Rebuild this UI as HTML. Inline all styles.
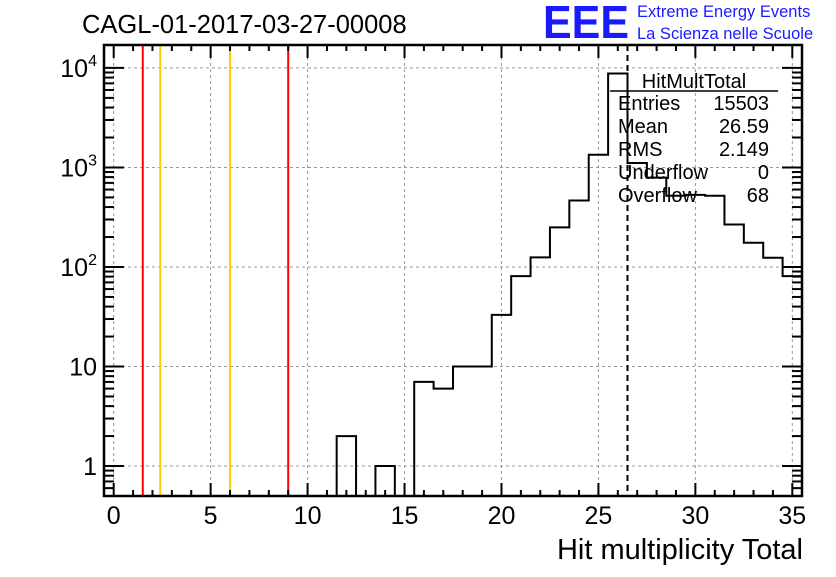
<!DOCTYPE html>
<html><head><meta charset="utf-8"><style>
body{margin:0;background:#fff;width:836px;height:572px;overflow:hidden}
svg{font-family:"Liberation Sans",Arial,sans-serif}
</style></head><body>
<svg id="c" width="836" height="572" xmlns="http://www.w3.org/2000/svg">
<text x="82" y="33" font-size="25.5">CAGL-01-2017-03-27-00008</text>
<text x="543" y="38" font-size="46" font-weight="bold" fill="#1a1aff" textLength="86" lengthAdjust="spacingAndGlyphs">EEE</text>
<text x="637" y="17" font-size="16.5" fill="#1a1aff">Extreme Energy Events</text>
<text x="637" y="39" font-size="16.5" fill="#1a1aff">La Scienza nelle Scuole</text>
<text x="803" y="559" font-size="29" text-anchor="end">Hit multiplicity Total</text>
<g id="grid"></g><g id="vl"></g><g id="hist"></g><g id="axes"></g>
<g>
<text x="694" y="88" font-size="20" text-anchor="middle">HitMultTotal</text>
<line x1="610" y1="91" x2="778" y2="91" stroke="#000" stroke-width="1.5"/>
<g font-size="20">
<text x="618" y="110">Entries</text><text x="769" y="110" text-anchor="end">15503</text>
<text x="618" y="133">Mean</text><text x="769" y="133" text-anchor="end">26.59</text>
<text x="618" y="156">RMS</text><text x="769" y="156" text-anchor="end">2.149</text>
<text x="618" y="179">Underflow</text><text x="769" y="179" text-anchor="end">0</text>
<text x="618" y="202">Overflow</text><text x="769" y="202" text-anchor="end">68</text>
</g></g>
</svg>
<script>
const binCenters=[12,13,14,15,16,17,18,19,20,21,22,23,24,25,26,27,28,29,30,31,32,33,34,35];
const binCounts=[2,0,1,0,7,6,10,10,33,81,125,250,465,1340,8800,1110,790,520,530,520,267,175,124,81];
const xTicks=[0,5,10,15,20,25,30,35];
const yTicks=[1,10,100,1000,10000];
const yTickLabels=["1","10","10^2","10^3","10^4"];
const redLines=[1.5,9];
const orangeLines=[2.4,6];
const meanLine=26.5;
const L=104,R=802,T=45,B=496,xmin=-0.5,xmax=35.5,ymin=0.5,ymax=17000;
const sx=v=>L+(v-xmin)/(xmax-xmin)*(R-L);
const sy=v=>B-(Math.log10(v)-Math.log10(ymin))/(Math.log10(ymax)-Math.log10(ymin))*(B-T);
const NS="http://www.w3.org/2000/svg";
function mk(tag,attrs,parent){const e=document.createElementNS(NS,tag);for(const k in attrs)e.setAttribute(k,attrs[k]);parent.appendChild(e);return e;}
const grid=document.getElementById('grid'),vl=document.getElementById('vl'),hist=document.getElementById('hist'),axes=document.getElementById('axes');
xTicks.forEach(t=>{const g=mk('line',{x1:sx(t),x2:sx(t),y1:T,y2:B,stroke:'#999','stroke-dasharray':'3,3','stroke-width':1},grid);

});
yTicks.forEach(t=>{const g=mk('line',{x1:L,x2:R,y1:sy(t),y2:sy(t),stroke:'#999','stroke-dasharray':'3,3','stroke-width':1},grid);

});
redLines.forEach(v=>{const l=mk('line',{x1:sx(v),x2:sx(v),y1:T,y2:B,stroke:'#ff0000','stroke-width':2},vl);

});
orangeLines.forEach(v=>{const l=mk('line',{x1:sx(v),x2:sx(v),y1:T,y2:B,stroke:'#ffcc00','stroke-width':2},vl);

});
const ml=mk('line',{x1:sx(meanLine),x2:sx(meanLine),y1:T,y2:B,stroke:'#000','stroke-width':2,'stroke-dasharray':'6,4'},vl);


let d='';let prev=B;
binCenters.forEach((c,i)=>{const v=binCounts[i];const y=v>0?Math.min(sy(v),B):B;const x0=sx(c-0.5),x1=sx(c+0.5);
d+=(d?'L':'M')+x0+','+prev+'L'+x0+','+y+'L'+x1+','+y;prev=y;});
const hp=mk('path',{d:d,fill:'none',stroke:'#000','stroke-width':2},hist);


const fr=mk('rect',{x:L,y:T,width:R-L,height:B-T,fill:'none',stroke:'#000','stroke-width':2.5},axes);


for(let v=0;v<=35;v++){const maj=v%5===0;const len=maj?13:6;
mk('line',{x1:sx(v),x2:sx(v),y1:B,y2:B-len,stroke:'#000','stroke-width':2},axes);
mk('line',{x1:sx(v),x2:sx(v),y1:T,y2:T+len,stroke:'#000','stroke-width':2},axes);}
xTicks.forEach(t=>{const tx=mk('text',{x:sx(t),y:524,'font-size':25,'text-anchor':'middle'},axes);tx.textContent=t;

});
for(let e=-1;e<=4;e++){for(let m=1;m<=9;m++){const v=m*Math.pow(10,e);if(v<ymin||v>ymax)continue;const len=m===1?20:10;
mk('line',{x1:L,x2:L+len,y1:sy(v),y2:sy(v),stroke:'#000','stroke-width':2},axes);
mk('line',{x1:R,x2:R-len,y1:sy(v),y2:sy(v),stroke:'#000','stroke-width':2},axes);}}
yTicks.forEach((t,i)=>{const lab=yTickLabels[i];const tx=mk('text',{x:97,y:sy(t)+9,'font-size':25,'text-anchor':'end'},axes);


if(lab.indexOf('^')>0){const p=lab.split('^');tx.setAttribute('x',87);tx.setAttribute('x',97);tx.textContent=p[0];
const s=mk('tspan',{dy:-11,'font-size':16},tx);s.textContent=p[1];}else tx.textContent=lab;});
</script>
</body></html>
